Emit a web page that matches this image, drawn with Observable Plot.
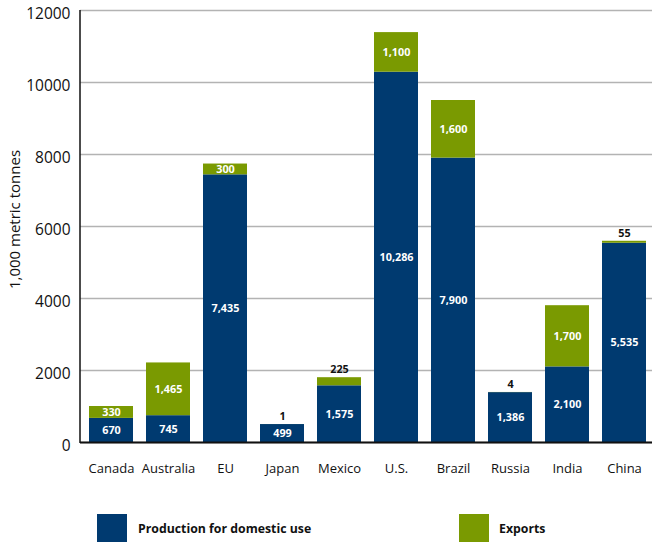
<!DOCTYPE html>
<html>
<head>
<meta charset="utf-8">
<script src="https://cdn.jsdelivr.net/npm/d3@7"></script>
<script src="https://cdn.jsdelivr.net/npm/@observablehq/plot@0.6"></script>
<style>
  html, body { margin: 0; padding: 0; background: #fff; }
  body { width: 652px; height: 542px; overflow: hidden; font-family: "Open Sans", sans-serif; }
  #legend { position: relative; width: 652px; height: 42px; }
  .sw { position: absolute; top: 14px; width: 30px; height: 30px; }
  .lt { position: absolute; top: 20px; font-size: 12.3px; font-weight: bold; color: #111; }
</style>
</head>
<body>
<div id="chart"></div>
<div id="legend"></div>
<script>
const categories = ["Canada","Australia","EU","Japan","Mexico","U.S.","Brazil","Russia","India","China"];
const domestic = [670, 745, 7435, 499, 1575, 10286, 7900, 1386, 2100, 5535];
const exportsV = [330, 1465, 300, 1, 225, 1100, 1600, 4, 1700, 55];
const seriesNames = ["Production for domestic use", "Exports"];
const yTicks = [0, 2000, 4000, 6000, 8000, 10000, 12000];
const colors = ["#003A70", "#7A9A01"];

const rows = [];
categories.forEach((c, i) => {
  rows.push({category: c, series: seriesNames[0], value: domestic[i], y1: 0, y2: domestic[i]});
  rows.push({category: c, series: seriesNames[1], value: exportsV[i], y1: domestic[i], y2: domestic[i] + exportsV[i]});
});
const inside = rows.filter(d => d.series === seriesNames[0] || d.value >= 250);
const above = rows.filter(d => d.series === seriesNames[1] && d.value < 250);
const fmt = d3.format(",");

const chart = Plot.plot({
  width: 652,
  height: 500,
  marginLeft: 80,
  marginRight: 0,
  marginTop: 10,
  marginBottom: 58,
  style: {fontFamily: "Open Sans, sans-serif", background: "#fff", overflow: "visible"},
  x: {domain: categories, range: [80, 655.5], paddingInner: 0.235, paddingOuter: 0.122, label: null},
  y: {domain: [0, 12000], label: null},
  color: {domain: seriesNames, range: colors},
  marks: [
    Plot.ruleY(yTicks, {stroke: "#b3b3b3", strokeWidth: 1.5}),
    Plot.barY(rows, {x: "category", y1: "y1", y2: "y2", fill: "series"}),
    Plot.text(inside, {x: "category", y: d => (d.y1 + d.y2) / 2, text: d => fmt(d.value), fill: "white", fontWeight: "bold", fontSize: 10.8}),
    Plot.text(above, {x: "category", y: "y2", text: d => fmt(d.value), fill: "#111", fontWeight: "bold", fontSize: 10.8, dy: -8}),
    Plot.ruleY([0], {stroke: "#111", strokeWidth: 2}),
    Plot.axisX({tickSize: 0, tickPadding: 21, fontSize: 13, fill: "#111"}),
    Plot.axisY({ticks: yTicks, tickSize: 0, tickPadding: 10, tickFormat: d => String(d), fontSize: 15.5, fill: "#111", dy: 4}),
    Plot.text(["1,000 metric tonnes"], {frameAnchor: "left", textAnchor: "middle", dx: -65, dy: -7, rotate: -90, fontSize: 15, fill: "#111"})
  ]
});
document.getElementById("chart").appendChild(chart);

// vertical y-axis line
const svg = d3.select(chart);
svg.append("line").attr("x1", 80).attr("x2", 80).attr("y1", 10).attr("y2", 443).attr("stroke", "#111").attr("stroke-width", 1.5);

const legend = document.getElementById("legend");
const legendPos = [[97, 138], [459, 499]];
seriesNames.forEach((s, i) => {
  const sw = document.createElement("div");
  sw.className = "sw"; sw.style.left = legendPos[i][0] + "px"; sw.style.background = colors[i];
  const t = document.createElement("div");
  t.className = "lt"; t.style.left = legendPos[i][1] + "px"; t.textContent = s;
  legend.appendChild(sw); legend.appendChild(t);
});
</script>
</body>
</html>
